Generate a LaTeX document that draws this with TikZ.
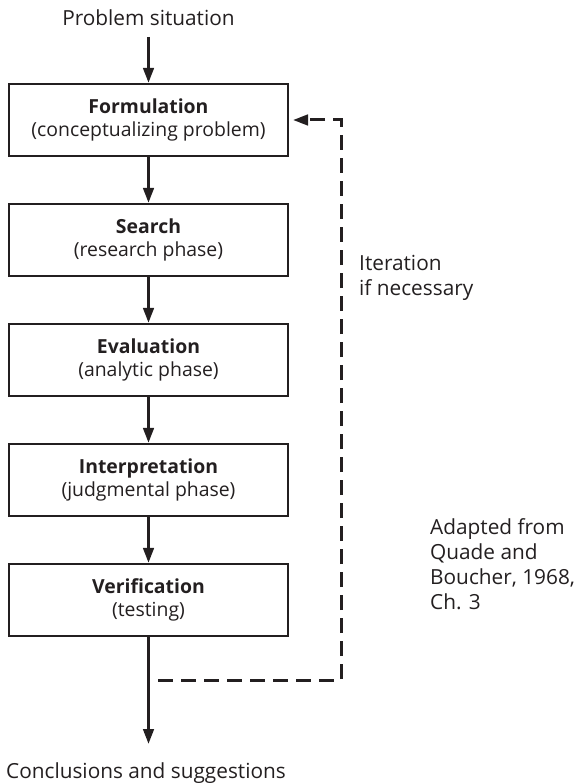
\documentclass[tikz,border=0pt]{standalone}
\usepackage{fontspec}
\setmainfont{Open Sans}
\usetikzlibrary{arrows.meta}
\definecolor{ink}{HTML}{231F20}
\begin{document}
\begin{tikzpicture}[x=1pt,y=-1pt,
  txt/.style={text=ink, font=\fontsize{20.8}{25}\selectfont, inner sep=0pt},
  stepbox/.style={draw=ink, line width=2.2pt, minimum width=279pt, minimum height=72pt, inner sep=0pt, align=center, text=ink, font=\fontsize{19.4}{23.5}\selectfont},
  flow/.style={line width=3pt, draw=ink, -{Stealth[length=15pt,width=10.5pt,inset=0pt]}},
  iter/.style={line width=3pt, draw=ink, dash pattern=on 15pt off 8pt, -{Stealth[length=15pt,width=10.5pt,inset=0pt]}}
]
\useasboundingbox (0,0) rectangle (576,783);
\node[txt, anchor=base] (prob) at (148.5,26) {Problem situation};
\node[stepbox] (form) at (148.5,120) {\textbf{Formulation}\\(conceptualizing problem)};
\node[stepbox] (search) at (148.5,240) {\textbf{Search}\\(research phase)};
\node[stepbox] (eval) at (148.5,360) {\textbf{Evaluation}\\(analytic phase)};
\node[stepbox] (interp) at (148.5,480) {\textbf{Interpretation}\\(judgmental phase)};
\node[stepbox] (verif) at (148.5,600) {\textbf{Verification}\\(testing)};
\node[txt, anchor=base] (concl) at (146,778) {Conclusions and suggestions};
\coordinate (probend) at (148.5,37);
\coordinate (conclend) at (148.5,744);
\draw[flow] (probend) -- (form.north);
\draw[flow] (form.south) -- (search.north);
\draw[flow] (search.south) -- (eval.north);
\draw[flow] (eval.south) -- (interp.north);
\draw[flow] (interp.south) -- (verif.north);
\draw[flow] (verif.south) -- (conclend);
\coordinate (itstart) at (158,680);
\coordinate (itcorner1) at (341,680);
\coordinate (itcorner2) at (341,120);
\coordinate (ittip) at (293,120);
\draw[iter] (itstart) -- (itcorner1) -- (itcorner2) -- (ittip);
\node[txt, anchor=base west, align=left] (iterlab) at (359,295) {Iteration\\if necessary};
\node[txt, anchor=base west, align=left] (adapt) at (430,609) {Adapted from\\Quade and\\Boucher, 1968,\\Ch. 3};
\end{tikzpicture}
\end{document}
